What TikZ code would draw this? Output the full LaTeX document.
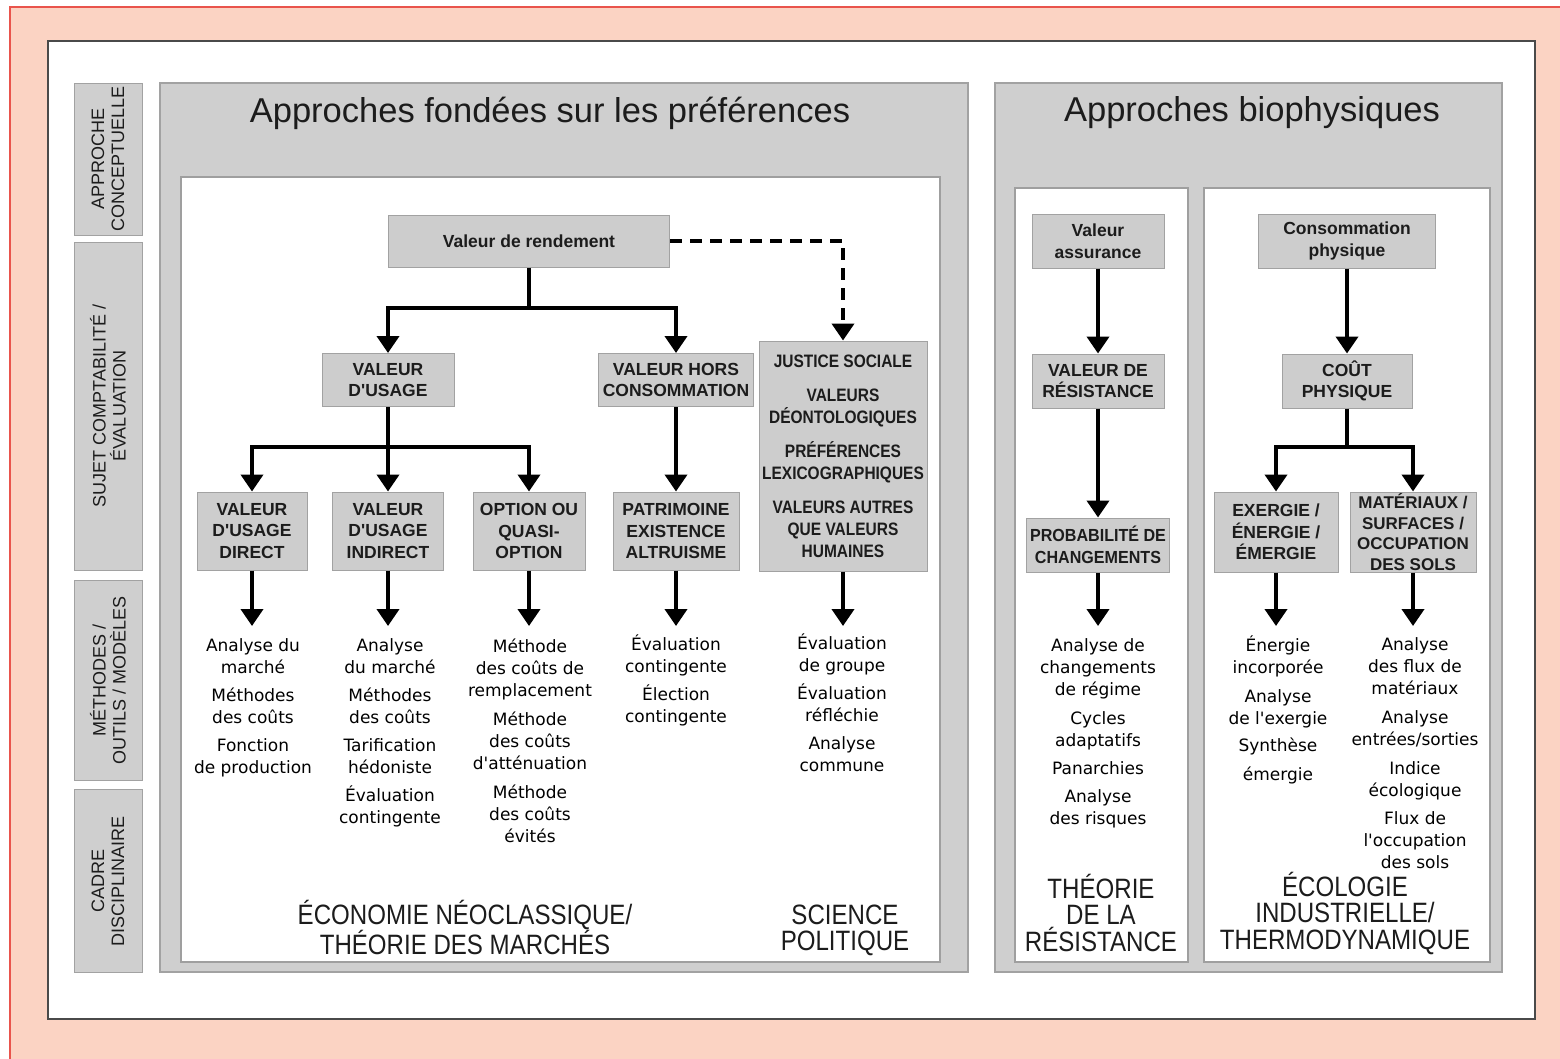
\documentclass[tikz,border=0pt]{standalone}
\usepackage{fontspec}
\usetikzlibrary{arrows.meta}
\setmainfont{Liberation Sans}
\newfontfamily\helv{Liberation Sans}
\newfontfamily\helvcond[FakeStretch=0.86]{Liberation Sans}
\newfontfamily\helvtight[FakeStretch=0.92]{Liberation Sans}
\newfontfamily\dejavu{DejaVu Sans}

\definecolor{peach}{HTML}{FBD3C3}
\definecolor{peachline}{HTML}{E9544C}
\definecolor{panelgray}{HTML}{CFCFCF}
\definecolor{boxgray}{HTML}{CDCDCD}
\definecolor{edgegray}{HTML}{A2A2A2}
\definecolor{framegray}{HTML}{4A4A4A}
\definecolor{ink}{HTML}{1C1C1C}

% struts that fix the first baseline of multi-line text nodes
\newcommand\mstr{\rule{0pt}{16pt}}
\newcommand\bstr{\rule{0pt}{26pt}}

\begin{document}
\begin{tikzpicture}[x=1pt,y=-1pt,
  sidebox/.style={rectangle, fill=panelgray, draw=edgegray, line width=1pt,
    rotate=90, align=center, inner sep=0pt, text=ink,
    font=\helv\fontsize{18}{20}\selectfont},
  valbox/.style={rectangle, fill=boxgray, draw=edgegray, line width=1pt,
    align=center, inner sep=0pt, text=ink,
    font=\helv\bfseries\fontsize{17.5}{21.5}\selectfont},
  condbox/.style={valbox, font=\helvcond\bfseries\fontsize{18}{22}\selectfont},
  tightbox/.style={valbox, font=\helvtight\bfseries\fontsize{17.5}{21.5}\selectfont},
  title/.style={inner sep=0pt, text=ink, font=\helv\fontsize{34.5}{40}\selectfont},
  meth/.style={anchor=north, align=center, inner sep=0pt, text=black,
    font=\dejavu\fontsize{17}{22}\selectfont},
  disc/.style={anchor=north, align=center, inner sep=0pt, text=ink,
    font=\helvcond\fontsize{28}{26.5}\selectfont},
  conn/.style={line width=4pt, draw=black},
  arr/.style={conn, -{Triangle[width=22pt,length=17pt]}},
  dasharr/.style={arr, dash pattern=on 12pt off 8pt}
]
\useasboundingbox (0,0) rectangle (1560,1058);

% page background and frame
\fill[white] (0,0) rectangle (1560,1058);
\filldraw[fill=peach, draw=peachline, line width=1.5pt] (10,7) rectangle (1575,1075);
\filldraw[fill=white, draw=framegray, line width=1.8pt] (48,41) rectangle (1535,1019);

% row labels
\node[sidebox, minimum width=152pt, minimum height=68pt] (rowa) at (108,159) {APPROCHE\\CONCEPTUELLE};
\node[sidebox, minimum width=328pt, minimum height=68pt] (rowb) at (108,406) {SUJET COMPTABILITÉ /\\ÉVALUATION};
\node[sidebox, minimum width=200pt, minimum height=68pt] (rowc) at (108,680) {MÉTHODES /\\OUTILS / MODÈLES};
\node[sidebox, minimum width=183pt, minimum height=68pt] (rowd) at (108,881) {CADRE\\DISCIPLINAIRE};

% panels
\filldraw[fill=panelgray, draw=edgegray, line width=1.2pt] (160,83) rectangle (968,972);
\filldraw[fill=white, draw=gray!75, line width=1.5pt] (181,177) rectangle (940,962);
\filldraw[fill=panelgray, draw=edgegray, line width=1.2pt] (995,83) rectangle (1502,972);
\filldraw[fill=white, draw=gray!75, line width=1.5pt] (1015,188) rectangle (1188,962);
\filldraw[fill=white, draw=gray!75, line width=1.5pt] (1204,188) rectangle (1490,962);

\node[title] (tpref) at (550,113) {Approches fondées sur les préférences};
\node[title] (tbio) at (1252,113) {Approches biophysiques};

% preference-based values
\node[valbox, minimum width=281pt, minimum height=52pt] (rend) at (529,241) {Valeur de rendement};
\node[valbox, minimum width=132pt, minimum height=53pt] (usage) at (388,380) {VALEUR\\D'USAGE};
\node[valbox, minimum width=155pt, minimum height=53pt] (hors) at (676,380) {VALEUR HORS\\CONSOMMATION};
\node[condbox, minimum width=168pt, minimum height=230pt] (just) at (843,456)
  {JUSTICE SOCIALE\\[12pt]VALEURS\\DÉONTOLOGIQUES\\[12pt]PRÉFÉRENCES\\LEXICOGRAPHIQUES\\[12pt]VALEURS AUTRES\\QUE VALEURS\\HUMAINES};
\node[valbox, minimum width=110pt, minimum height=78pt] (direct) at (252,531) {VALEUR\\D'USAGE\\DIRECT};
\node[valbox, minimum width=111pt, minimum height=78pt] (indirect) at (388,531) {VALEUR\\D'USAGE\\INDIRECT};
\node[valbox, minimum width=112pt, minimum height=78pt] (option) at (529,531) {OPTION OU\\QUASI-\\OPTION};
\node[valbox, minimum width=126pt, minimum height=78pt] (patri) at (676,531) {PATRIMOINE\\EXISTENCE\\ALTRUISME};

% biophysical values
\node[valbox, minimum width=132pt, minimum height=54pt] (assur) at (1098,241) {Valeur\\assurance};
\node[valbox, minimum width=132pt, minimum height=54pt] (resist) at (1098,381) {VALEUR DE\\RÉSISTANCE};
\node[tightbox, minimum width=143pt, minimum height=54pt] (proba) at (1098,545) {PROBABILITÉ DE\\CHANGEMENTS};
\node[valbox, minimum width=177pt, minimum height=54pt] (conso) at (1347,241) {Consommation\\physique};
\node[valbox, minimum width=130pt, minimum height=54pt] (cout) at (1347,381) {COÛT\\PHYSIQUE};
\node[valbox, minimum width=124pt, minimum height=80pt] (exerg) at (1276,532) {EXERGIE /\\ÉNERGIE /\\ÉMERGIE};
\node[valbox, minimum width=126pt, minimum height=80pt, font=\helv\bfseries\fontsize{17}{20.5}\selectfont] (mater) at (1413,532) {MATÉRIAUX /\\SURFACES /\\OCCUPATION\\DES SOLS};

% branch points and arrow ends
\coordinate (br1) at (529,308);
\coordinate (br2) at (388,447);
\coordinate (br3) at (1347,447);
\coordinate (m1) at (252,626);
\coordinate (m2) at (388,626);
\coordinate (m3) at (529,626);
\coordinate (m4) at (676,626);
\coordinate (m5) at (843,626);
\coordinate (m6) at (1098,626);
\coordinate (m7) at (1276,626);
\coordinate (m8) at (1413,626);

% connectors
\draw[conn] (rend.south) -- (br1);
\draw[arr] (br1) -| (usage.north);
\draw[arr] (br1) -| (hors.north);
\draw[dasharr] (rend.east) -| (just.north);
\draw[conn] (usage.south) -- (br2);
\draw[arr] (br2) -| (direct.north);
\draw[arr] (br2) -- (indirect.north);
\draw[arr] (br2) -| (option.north);
\draw[arr] (hors.south) -- (patri.north);
\draw[arr] (direct.south) -- (m1);
\draw[arr] (indirect.south) -- (m2);
\draw[arr] (option.south) -- (m3);
\draw[arr] (patri.south) -- (m4);
\draw[arr] (just.south) -- (m5);
\draw[arr] (assur.south) -- (resist.north);
\draw[arr] (resist.south) -- (proba.north);
\draw[arr] (proba.south) -- (m6);
\draw[arr] (conso.south) -- (cout.north);
\draw[conn] (cout.south) -- (br3);
\draw[arr] (br3) -| (exerg.north);
\draw[arr] (br3) -| (mater.north);
\draw[arr] (exerg.south) -- (m7);
\draw[arr] (mater.south) -- (m8);

% methods, tools and models
\node[meth] (l1) at (253,635) {\mstr Analyse du\\marché\\[6pt]Méthodes\\des coûts\\[6pt]Fonction\\de production};
\node[meth] (l2) at (390,635) {\mstr Analyse\\du marché\\[6pt]Méthodes\\des coûts\\[6pt]Tarification\\hédoniste\\[6pt]Évaluation\\contingente};
\node[meth] (l3) at (530,636) {\mstr Méthode\\des coûts de\\remplacement\\[7pt]Méthode\\des coûts\\d'atténuation\\[7pt]Méthode\\des coûts\\évités};
\node[meth] (l4) at (676,634) {\mstr Évaluation\\contingente\\[6pt]Élection\\contingente};
\node[meth] (l5) at (842,633) {\mstr Évaluation\\de groupe\\[6pt]Évaluation\\réfléchie\\[6pt]Analyse\\commune};
\node[meth] (l6) at (1098,635) {\mstr Analyse de\\changements\\de régime\\[7pt]Cycles\\adaptatifs\\[6pt]Panarchies\\[6pt]Analyse\\des risques};
\node[meth] (l7) at (1278,635) {\mstr Énergie\\incorporée\\[7pt]Analyse\\de l'exergie\\[5pt]Synthèse\\[7pt]émergie};
\node[meth] (l8) at (1415,634) {\mstr Analyse\\des flux de\\matériaux\\[7pt]Analyse\\entrées/sorties\\[7pt]Indice\\écologique\\[6pt]Flux de\\l'occupation\\des sols};

% disciplinary frameworks
\node[disc] (d1) at (465,898) {\bstr ÉCONOMIE NÉOCLASSIQUE/\\THÉORIE DES MARCHÉS};
\node[disc] (d2) at (845,898) {\bstr SCIENCE\\POLITIQUE};
\node[disc] (d3) at (1101,872) {\bstr THÉORIE\\DE LA\\RÉSISTANCE};
\node[disc] (d4) at (1345,870) {\bstr ÉCOLOGIE\\INDUSTRIELLE/\\THERMODYNAMIQUE};
\end{tikzpicture}
\end{document}
